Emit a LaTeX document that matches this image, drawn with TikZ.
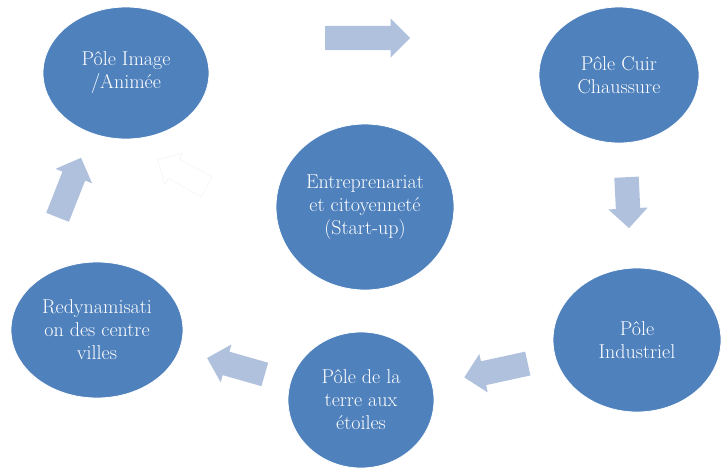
\documentclass[tikz,border=0pt]{standalone}
\usetikzlibrary{shapes.geometric,shapes.arrows}
\definecolor{poleblue}{RGB}{79,129,189}
\definecolor{flecheblue}{RGB}{176,193,222}
\begin{document}
\begin{tikzpicture}
	[x=1pt,y=-1pt,
	pole/.style={ellipse,fill=poleblue,draw=white,line width=0.8pt,inner sep=0pt,
		text=white,align=center,font=\fontsize{20}{23}\selectfont},
	fleche/.style={single arrow,fill=flecheblue,inner sep=0pt,minimum width=0pt,anchor=tail,
		text height=12pt,text depth=12pt,single arrow head extend=7.5pt}]
	\useasboundingbox (0,0) rectangle (721,467);
	\node [pole,minimum width=166pt,minimum height=132pt] (image) at (126,73) {Pôle Image\\/Animée};
	\node [pole,minimum width=160pt,minimum height=136pt] (cuir) at (619,75) {Pôle Cuir\\Chaussure};
	\node [pole,minimum width=178pt,minimum height=166pt] (centre) at (365,207) {Entreprenariat\\et citoyenneté\\(Start-up)};
	\node [pole,minimum width=168pt,minimum height=144pt] (indus) at (637,340) {Pôle\\Industriel};
	\node [pole,minimum width=146pt,minimum height=136pt] (terre) at (361,400) {Pôle de la\\terre aux\\étoiles};
	\node [pole,minimum width=172pt,minimum height=136pt] (redyn) at (97,330) {Redynamisati\\on des centre\\villes};
	% fleches du cycle
	\node [fleche,minimum height=85pt] (f1) at (325,38) {};
	\node [fleche,minimum height=51pt,rotate=-87.2] (f2) at (626.5,177) {};
	\node [fleche,minimum height=65pt,rotate=192.3] (f3) at (528,363.5) {};
	\node [fleche,minimum height=60pt,rotate=164.1] (f4) at (265,374.5) {};
	\node [fleche,minimum height=64pt,rotate=68.5] (f5) at (57.5,217.5) {};
	\node [fleche,minimum height=56pt,rotate=151.1,fill=white,draw=black!4,line width=0.6pt,
		text height=11pt,text depth=11pt,single arrow head extend=7pt] (f6) at (207,187) {};
\end{tikzpicture}
\end{document}
